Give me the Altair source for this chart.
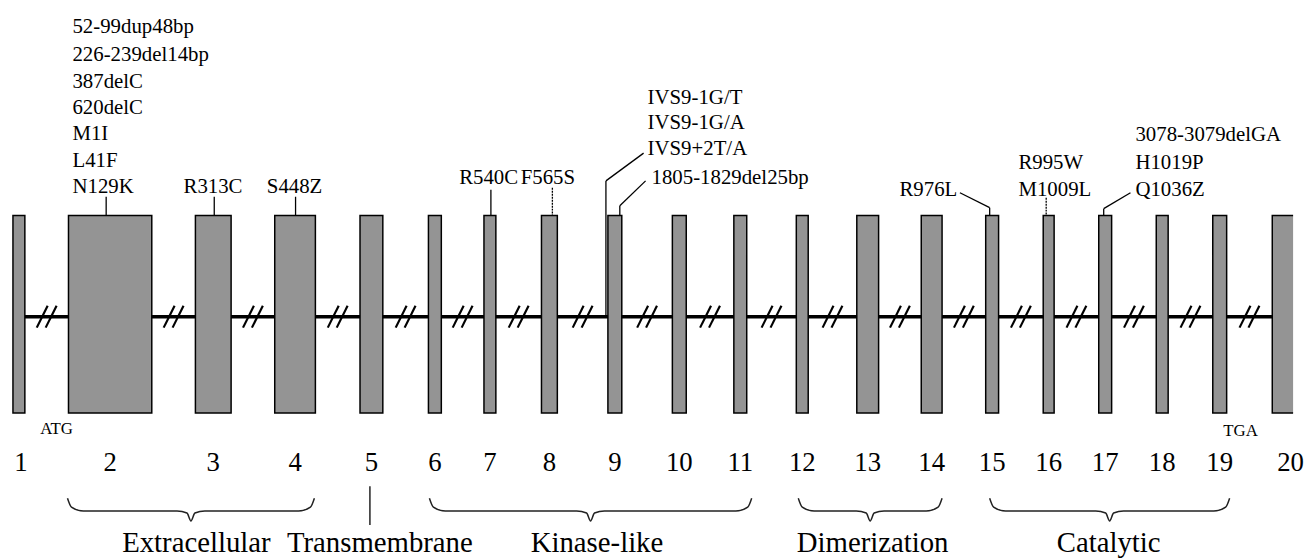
import altair as alt
import pandas as pd

# ---------------- data ----------------
exon_num = list(range(1, 21))
exon_left = [13, 69, 197, 277, 363, 432, 488, 546, 613, 678, 740, 803, 864, 929, 994, 1052, 1108, 1166, 1223, 1283]
exon_right = [25, 153, 233, 318, 386, 445, 500, 562, 627, 692, 753, 815, 886, 950, 1007, 1063, 1121, 1178, 1237, 1320]

mut_labels = ["52-99dup48bp", "226-239del14bp", "387delC", "620delC", "M1I", "L41F", "N129K",
              "R313C", "S448Z", "R540C", "F565S",
              "IVS9-1G/T", "IVS9-1G/A", "IVS9+2T/A", "1805-1829del25bp",
              "R976L", "R995W", "M1009L", "3078-3079delGA", "H1019P", "Q1036Z"]
mut_x = [73, 73, 73, 73, 73, 73, 73, 185, 269, 463, 525, 653, 653, 653, 657, 907, 1027, 1027, 1145, 1145, 1145]
mut_y = [25, 53, 80, 107, 133, 160, 186, 186, 186, 177, 177, 96, 122, 148, 177, 189, 162, 189, 134, 162, 189]

# leader lines (start x, start y, end x, end y, dashed?)
lead_x1 = [107, 216, 298, 495, 557, 649, 611, 651, 625, 968, 998, 1055, 1140, 1113]
lead_y1 = [196, 196, 196, 189, 187, 152, 180, 180, 205, 192, 207, 197, 192, 208]
lead_x2 = [107, 216, 298, 495, 557, 611, 611, 625, 625, 998, 998, 1055, 1113, 1113]
lead_y2 = [215, 215, 215, 215, 215, 180, 317, 205, 215, 207, 215, 215, 208, 215]
lead_dash = [0, 0, 0, 0, 1, 0, 0, 0, 0, 0, 0, 1, 0, 0]

codon_labels = ["ATG", "TGA"]
codon_x = [57, 1251]
codon_y = [430, 432]

domain_names = ["Extracellular", "Transmembrane", "Kinase-like", "Dimerization", "Catalytic"]
domain_label_x = [198, 383, 602, 880, 1118]
brace_start = [68, None, 433, 805, 998]
brace_end = [317, None, 758, 950, 1240]
tm_line_x = 373

# ---------------- derived tables ----------------
exons = pd.DataFrame({"num": exon_num, "x0": exon_left, "x1": exon_right})
exons["xc"] = (exons.x0 + exons.x1) / 2
exons.loc[exons.num == 1, "xc"] = 21
exons["y0"] = 215
exons["y1"] = 414
exons["ny"] = 465
exons["lab"] = exons.num.astype(str)

intron = pd.DataFrame({"x": [exon_right[0]], "x2": [exon_left[-1]], "y": [317]})

sl = []
for i in range(19):
    cx = (exon_right[i] + exon_left[i + 1]) / 2
    for k in (-1, 1):
        c = cx + k * 4.5
        sl.append({"x": c - 5.5, "y": 328, "x2": c + 5.5, "y2": 306})
slashes = pd.DataFrame(sl)

muts = pd.DataFrame({"t": mut_labels, "x": mut_x, "y": mut_y})
leads = pd.DataFrame({"x": lead_x1, "y": lead_y1, "x2": lead_x2, "y2": lead_y2, "d": lead_dash})
codons = pd.DataFrame({"t": codon_labels, "x": codon_x, "y": codon_y})
domains = pd.DataFrame({"t": domain_names, "x": domain_label_x, "y": 545})

bp = []
for name, a, b in zip(domain_names, brace_start, brace_end):
    if a is None:
        continue
    tip = (a + b) / 2
    pts = [(a, 500), (a + 4, 509), (a + 16, 513), (tip - 14, 513), (tip - 4, 515), (tip, 523),
           (tip + 4, 515), (tip + 14, 513), (b - 16, 513), (b - 4, 509), (b, 500)]
    for j, (px, py) in enumerate(pts):
        bp.append({"name": name, "x": px, "y": py, "o": j})
braces = pd.DataFrame(bp)
tm = pd.DataFrame({"x": [tm_line_x], "y": [488], "y2": [527]})

# ---------------- chart ----------------
xs = alt.Scale(domain=[8, 1304], range=[0, 1296], nice=False, zero=False)
ys = alt.Scale(domain=[8, 550], range=[0, 542], nice=False, zero=False)
SERIF = "'Liberation Serif', 'Times New Roman', Times, 'DejaVu Serif', serif"


def X(f):
    return alt.X(f, type="quantitative", scale=xs, axis=None)


def Y(f):
    return alt.Y(f, type="quantitative", scale=ys, axis=None)


intron_layer = alt.Chart(intron).mark_rule(color="black", strokeWidth=3.5).encode(
    x=X("x"), x2="x2", y=Y("y"))

slash_layer = alt.Chart(slashes).mark_rule(color="black", strokeWidth=2.2).encode(
    x=X("x"), y=Y("y"), x2="x2", y2="y2")

exon_layer = alt.Chart(exons).mark_rect(fill="#949494", stroke="black", strokeWidth=1.5, clip=True).encode(
    x=X("x0"), x2="x1", y=Y("y0"), y2="y1")

num_layer = alt.Chart(exons).mark_text(font=SERIF, fontSize=27, color="black", baseline="middle").encode(
    x=X("xc"), y=Y("ny"), text="lab")

mut_layer = alt.Chart(muts).mark_text(font=SERIF, fontSize=21, color="black", align="left", baseline="middle").encode(
    x=X("x"), y=Y("y"), text="t")

lead_solid = alt.Chart(leads[leads.d == 0]).mark_rule(color="black", strokeWidth=1.3).encode(
    x=X("x"), y=Y("y"), x2="x2", y2="y2")
lead_dashed = alt.Chart(leads[leads.d == 1]).mark_rule(color="black", strokeWidth=1.3, strokeDash=[2, 1]).encode(
    x=X("x"), y=Y("y"), x2="x2", y2="y2")

codon_layer = alt.Chart(codons).mark_text(font=SERIF, fontSize=17, color="black", baseline="middle").encode(
    x=X("x"), y=Y("y"), text="t")

brace_layer = alt.Chart(braces).mark_line(color="#222222", strokeWidth=1.5, interpolate="monotone").encode(
    x=X("x"), y=Y("y"), detail="name:N", order="o:Q")

tm_layer = alt.Chart(tm).mark_rule(color="black", strokeWidth=1.3).encode(
    x=X("x"), y=Y("y"), y2="y2")

dom_layer = alt.Chart(domains).mark_text(font=SERIF, fontSize=29, color="black", baseline="middle").encode(
    x=X("x"), y=Y("y"), text="t")

chart = alt.layer(
    intron_layer, slash_layer, exon_layer, num_layer, mut_layer, lead_solid, lead_dashed,
    codon_layer, brace_layer, tm_layer, dom_layer
).properties(width=1296, height=542, padding=0, background="white").configure_view(stroke=None)

chart.save("out.html", embed_options={"renderer": "svg", "actions": False})
